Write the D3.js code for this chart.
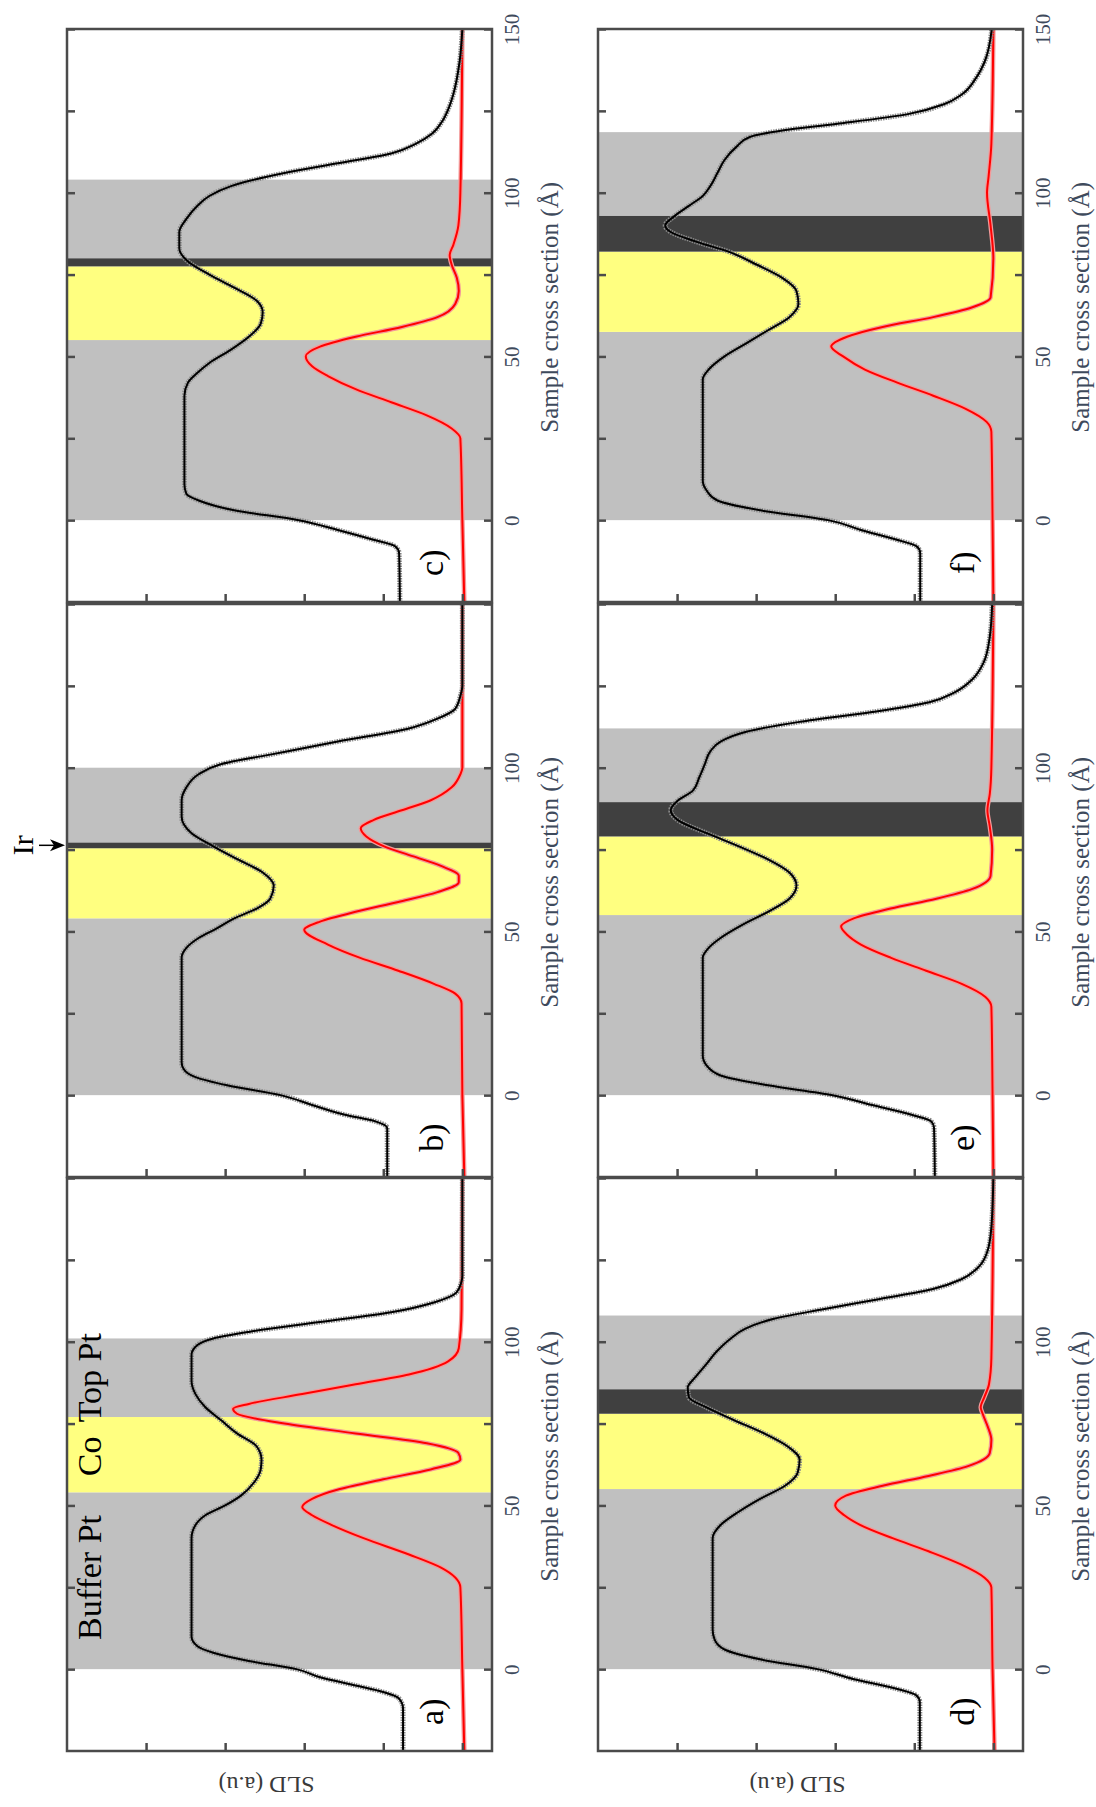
<!DOCTYPE html>
<html>
<head>
<meta charset="utf-8">
<script src="https://cdn.jsdelivr.net/npm/d3@7"></script>
<style>
  body { margin: 0; background: #fff; }
  text { font-family: "Liberation Serif", "Times New Roman", serif; }
</style>
</head>
<body>
<div id="chart"></div>
<script>
// depth (Å) along the sample, SLD in arbitrary units
const depthTicks = [0, 25, 50, 75, 100, 125, 150];
const sldTicks = [0, 2, 4, 6, 8];

// [depth, SLD]
const nuclearA = [[-25,1.5],[-12,1.5],[-9,1.6],[-7,2.0],[-5,2.7],[-2.5,3.6],[0,4.2],[2.5,5.4],[5,6.3],[7,6.7],[10,6.85],[40,6.85],[44,6.75],[47,6.5],[50,6.0],[53,5.6],[57,5.27],[61,5.1],[64,5.08],[68,5.2],[72,5.7],[76,6.1],[80,6.5],[84,6.75],[88,6.85],[96,6.85],[99,6.7],[101,6.3],[103,5.4],[106,3.6],[109,1.8],[112,0.72],[115,0.15],[118,0.03],[120,0],[150,0]];
const magneticA = [[-25,-0.05],[0,0],[25,0.05],[28,0.18],[31,0.54],[35,1.35],[40,2.5],[44,3.3],[47,3.8],[49.5,4.05],[52,3.8],[55,3.1],[58,2.0],[61,0.8],[64,0.05],[66,0.1],[69,0.9],[72,2.7],[75,4.5],[78,5.7],[79.5,5.8],[81,5.4],[84,4.05],[87,2.7],[90,1.35],[94,0.36],[98,0.09],[110,0.02],[150,0]];
const layersA = [["pt",0,54],["co",54,77],["pt",77,101]];

const nuclearB = [[-25,1.9],[-10,1.9],[-8,2.2],[-6,2.97],[-3,3.8],[0,4.6],[3,5.95],[5.5,6.75],[8,7.05],[10,7.1],[42,7.1],[45,6.98],[48,6.67],[51,6.2],[54,5.77],[57,5.2],[60,4.86],[64,4.77],[68,5.05],[72,5.68],[76,6.3],[80,6.85],[85,7.1],[90,7.1],[94,6.98],[98,6.67],[101,6.13],[104,4.86],[108,3.15],[112,1.35],[115,0.63],[118,0.18],[122,0.05],[125,0],[150,0]];
const magneticB = [[-25,-0.05],[0,0],[28,0.02],[31,0.18],[34,0.72],[38,1.62],[42,2.6],[46,3.4],[50.5,4.0],[53,3.6],[56,2.7],[59,1.62],[62,0.63],[65,0.09],[67,0.09],[70,0.54],[73,1.26],[76,1.98],[79,2.43],[81.5,2.57],[84,2.25],[87,1.53],[90,0.81],[94,0.27],[98,0.05],[100,0],[150,0]];
const layersB = [["pt",0,54],["co",54,75.4],["ir",75.4,77.2],["pt",77.2,100]];

const nuclearC = [[-25,1.58],[-10,1.6],[-8,1.7],[-6,2.25],[-3,3.15],[0,4.14],[3,5.77],[6,6.67],[8,6.98],[11,7.03],[38,7.03],[42,6.94],[45,6.7],[48,6.4],[52,5.86],[56,5.4],[60,5.1],[63.5,5.05],[67,5.2],[71,5.77],[75,6.4],[79,6.94],[83,7.16],[88,7.16],[92,6.98],[96,6.7],[99,6.4],[102,5.85],[106,4.5],[109,3.15],[112,1.8],[115,1.17],[118,0.77],[122,0.5],[126,0.34],[130,0.23],[140,0.07],[150,0]];
const magneticC = [[-25,-0.05],[0,0],[25,0.05],[28,0.27],[32,0.9],[36,1.8],[40,2.7],[44,3.4],[47,3.8],[50,3.96],[53,3.6],[56,2.7],[59,1.53],[62,0.63],[66,0.18],[70,0.09],[74,0.14],[78,0.27],[81,0.32],[84,0.23],[90,0.1],[100,0.05],[150,0]];
const layersC = [["pt",0,55],["co",55,77.5],["ir",77.5,80],["pt",80,104]];

const nuclearD = [[-25,1.86],[-10,1.86],[-8,1.95],[-6,2.45],[-3,3.55],[0,4.45],[3,5.9],[6,6.8],[9,7.05],[12,7.1],[40,7.1],[44,6.9],[48,6.45],[52,5.9],[56,5.27],[60,4.95],[64,4.9],[68,5.2],[72,5.8],[76,6.55],[80,7.27],[83,7.7],[86,7.73],[89,7.55],[93,7.27],[97,7.0],[101,6.64],[104,6.27],[107,5.55],[110,4.27],[113,2.9],[116,1.55],[119,0.82],[123,0.36],[128,0.14],[135,0.05],[150,0]];
const magneticD = [[-25,-0.03],[0,0.02],[25,0.05],[28,0.23],[32,0.82],[36,1.64],[40,2.55],[44,3.36],[47,3.77],[50,4.0],[53,3.73],[56,2.8],[59,1.64],[62,0.64],[66,0.09],[70,0.05],[74,0.14],[78,0.27],[80,0.32],[83,0.23],[87,0.11],[95,0.05],[150,0]];
const layersD = [["pt",0,55],["co",55,78],["ir",78,85.5],["pt",85.5,108]];

const nuclearE = [[-25,1.48],[-10,1.5],[-8,1.57],[-6,2.07],[-3,3.07],[0,4.07],[3,5.7],[6,6.9],[9,7.25],[12,7.35],[42,7.35],[45,7.2],[48,6.9],[52,6.35],[56,5.7],[60,5.16],[64,4.98],[68,5.16],[72,5.7],[76,6.44],[80,7.25],[84,7.98],[87,8.16],[90,7.98],[93,7.6],[97,7.44],[101,7.3],[105,7.16],[108,6.9],[111,6.25],[114,4.9],[117,3.07],[120,1.62],[123,0.98],[127,0.53],[132,0.25],[140,0.09],[150,0.03]];
const magneticE = [[-25,0],[0,0.02],[27,0.05],[30,0.2],[34,0.8],[38,1.7],[42,2.6],[46,3.35],[49,3.7],[51.5,3.85],[54,3.53],[57,2.6],[60,1.44],[63,0.53],[67,0.07],[75,0.03],[82,0.09],[87,0.15],[92,0.09],[100,0.05],[150,0]];
const layersE = [["pt",0,55],["co",55,79],["ir",79,89.5],["pt",89.5,112]];

const nuclearF = [[-25,1.85],[-10,1.85],[-8,1.94],[-6,2.44],[-3,3.35],[0,4.18],[3,5.9],[6,6.98],[9,7.25],[12,7.35],[43,7.35],[46,7.2],[50,6.8],[54,6.25],[58,5.7],[62,5.16],[66,4.93],[70,4.98],[74,5.34],[78,5.98],[82,6.7],[85,7.5],[88,8.16],[90,8.3],[93,8.05],[96,7.7],[99,7.35],[102,7.16],[106,6.98],[110,6.8],[114,6.5],[117,6.16],[119,5.34],[121,3.98],[124,2.16],[127,1.25],[130,0.8],[135,0.44],[140,0.22],[150,0.04]];
const magneticF = [[-25,0],[0,0.02],[27,0.05],[30,0.17],[34,0.7],[38,1.52],[42,2.43],[46,3.25],[50,3.8],[53,4.1],[56,3.7],[59,2.8],[62,1.52],[65,0.53],[68,0.07],[80,0],[90,0.07],[100,0.16],[105,0.12],[115,0.05],[150,0]];
const layersF = [["pt",0,57.5],["co",57.5,82],["ir",82,93],["pt",93,118.5]];

const layerLabelsA = [["Buffer Pt", 28], ["Co", 65], ["Top Pt", 89]];
const irMarkDepth = 76.3;

const panels = [
    { name: "a)", col: 0, row: 2, nuclear: nuclearA, magnetic: magneticA, layers: layersA },
    { name: "b)", col: 0, row: 1, nuclear: nuclearB, magnetic: magneticB, layers: layersB },
    { name: "c)", col: 0, row: 0, nuclear: nuclearC, magnetic: magneticC, layers: layersC },
    { name: "d)", col: 1, row: 2, nuclear: nuclearD, magnetic: magneticD, layers: layersD },
    { name: "e)", col: 1, row: 1, nuclear: nuclearE, magnetic: magneticE, layers: layersE },
    { name: "f)", col: 1, row: 0, nuclear: nuclearF, magnetic: magneticF, layers: layersF }
];

const layerColor = { pt: "#c0c0c0", co: "#ffff80", ir: "#404040" };
const axisColor = "#4b4b4b";
const labelColor = "#3e4a5c";

const width = 1096, height = 1807;
const colLeft = [67, 598];
const rowTop = [29, 604, 1178];
const pw = 425, ph = 573;

const svg = d3.select("#chart").append("svg")
    .attr("width", width)
    .attr("height", height)
    .style("background", "#fff");

// depth runs bottom -> top, SLD grows to the left
const y = d3.scaleLinear().domain([-25, 150]).range([ph, 0]);
const x = d3.scaleLinear().domain([10, -0.75]).range([0, pw]);

const line = d3.line()
    .x(d => x(d[1]))
    .y(d => y(d[0]))
    .curve(d3.curveMonotoneY);

panels.forEach((p, i) => {
    const g = svg.append("g")
        .attr("transform", `translate(${colLeft[p.col]},${rowTop[p.row]})`);

    g.append("clipPath").attr("id", "clip" + i)
        .append("rect").attr("width", pw).attr("height", ph);

    g.selectAll(".layer")
        .data(p.layers)
        .join("rect")
        .attr("class", "layer")
        .attr("x", 0)
        .attr("width", pw)
        .attr("y", d => y(d[2]))
        .attr("height", d => y(d[1]) - y(d[2]))
        .attr("fill", d => layerColor[d[0]]);

    const curves = g.append("g").attr("clip-path", `url(#clip${i})`);

    // scatter band around the fits
    curves.append("path").datum(p.magnetic)
        .attr("d", line).attr("fill", "none")
        .attr("stroke", "#f39a9a").attr("stroke-width", 4.5);
    curves.append("path").datum(p.magnetic)
        .attr("d", line).attr("fill", "none")
        .attr("stroke", "#ff0000").attr("stroke-width", 2);

    curves.append("path").datum(p.nuclear)
        .attr("d", line).attr("fill", "none")
        .attr("stroke", "#8c8c8c").attr("stroke-width", 5)
        .attr("stroke-dasharray", "1.5,1");
    curves.append("path").datum(p.nuclear)
        .attr("d", line).attr("fill", "none")
        .attr("stroke", "#000").attr("stroke-width", 2);

    // axes, ticks pointing inward; 150 is only labelled on the top row
    const right = g.append("g")
        .attr("transform", `translate(${pw},0)`)
        .call(d3.axisRight(y).tickValues(depthTicks)
            .tickSizeInner(-8).tickSizeOuter(0)
            .tickFormat(d => (d % 50 === 0 && (d < 150 || p.row === 0)) ? d : ""));
    right.selectAll("text")
        .attr("transform", "rotate(-90)")
        .attr("x", 0).attr("y", 12).attr("dy", null)
        .attr("text-anchor", "middle")
        .attr("dominant-baseline", "hanging")
        .attr("fill", labelColor)
        .style("font-size", "21px")
        .style("font-family", "'Liberation Serif', serif");

    const left = g.append("g")
        .call(d3.axisLeft(y).tickValues(depthTicks)
            .tickSizeInner(-8).tickSizeOuter(0).tickFormat(""));

    const bottom = g.append("g")
        .attr("transform", `translate(0,${ph})`)
        .call(d3.axisBottom(x).tickValues(sldTicks)
            .tickSizeInner(-8).tickSizeOuter(0).tickFormat(""));

    [right, left, bottom].forEach(a => {
        a.select(".domain").remove();
        a.selectAll("line").attr("stroke", axisColor).attr("stroke-width", 2.5);
    });

    g.append("rect")
        .attr("width", pw).attr("height", ph)
        .attr("fill", "none")
        .attr("stroke", axisColor).attr("stroke-width", 2.5);

    g.append("text")
        .attr("transform", `translate(${pw + 48},${y(65)}) rotate(-90)`)
        .attr("text-anchor", "middle")
        .attr("dominant-baseline", "hanging")
        .attr("fill", labelColor)
        .style("font-size", "25px")
        .text("Sample cross section (Å)");

    g.append("text")
        .attr("transform", `translate(${x(0.77)},${y(-13)}) rotate(-90)`)
        .attr("text-anchor", "middle")
        .attr("dominant-baseline", "central")
        .attr("fill", "#000")
        .style("font-size", "34px")
        .text(p.name);

    if (p.name === "a)") {
        g.selectAll(".layer-label")
            .data(layerLabelsA)
            .join("text")
            .attr("class", "layer-label")
            .attr("transform", d => `translate(10,${y(d[1])}) rotate(-90)`)
            .attr("text-anchor", "middle")
            .attr("dominant-baseline", "hanging")
            .attr("fill", "#000")
            .style("font-size", "34px")
            .text(d => d[0]);
    }

    if (p.name === "b)") {
        const yIr = rowTop[p.row] + y(irMarkDepth);
        svg.append("text")
            .attr("transform", `translate(22,${yIr}) rotate(-90)`)
            .attr("text-anchor", "middle")
            .attr("dominant-baseline", "central")
            .attr("fill", "#000")
            .style("font-size", "30px")
            .text("Ir");
        svg.append("line")
            .attr("x1", 39).attr("x2", 58)
            .attr("y1", yIr).attr("y2", yIr)
            .attr("stroke", "#000").attr("stroke-width", 1.5);
        svg.append("path")
            .attr("transform", `translate(0,${yIr})`)
            .attr("d", "M50,-6 L65,0 L50,6 L54,0 Z")
            .attr("fill", "#000");
    }
});

// SLD axis titles, upside down under each column
colLeft.forEach(cx => {
    svg.append("text")
        .attr("transform", `translate(${cx + pw / 2 - 13},1785) rotate(180)`)
        .attr("text-anchor", "middle")
        .attr("dominant-baseline", "central")
        .attr("fill", "#3a3a3a")
        .style("font-size", "24px")
        .text("SLD (a.u)");
});
</script>
</body>
</html>
